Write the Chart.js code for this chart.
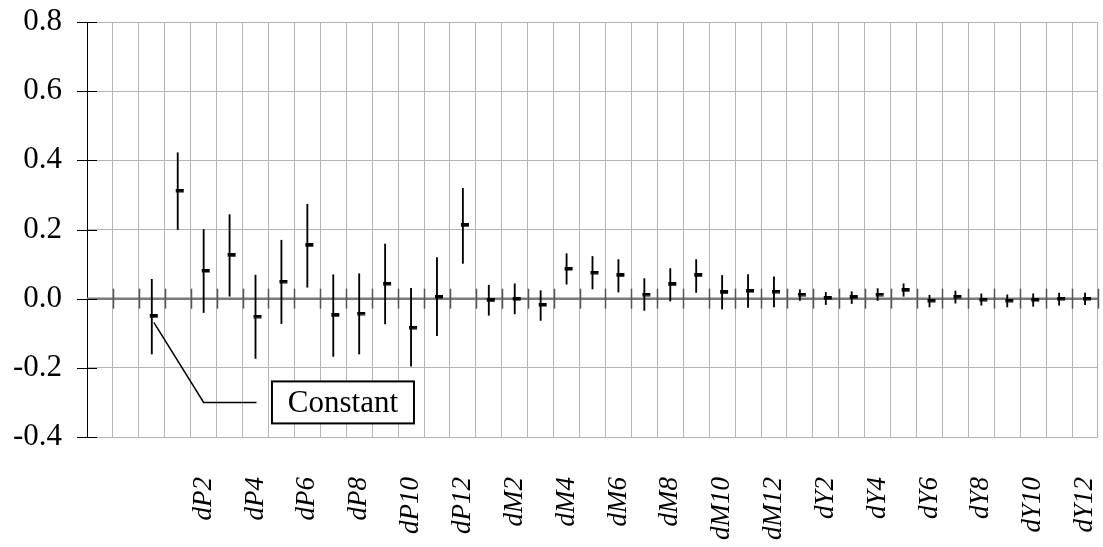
<!DOCTYPE html>
<html lang="en">
<head>
<meta charset="UTF-8">
<title>Coefficients</title>
<script src="https://cdn.jsdelivr.net/npm/chart.js"></script>
<style>
  html, body { margin: 0; padding: 0; background: #fff; }
  #wrap { width: 1103px; height: 547px; }
</style>
</head>
<body>
<div id="wrap"><canvas id="myChart"></canvas></div>
<script>
const categories = ['', '', 'Constant',
  'dP1', 'dP2', 'dP3', 'dP4', 'dP5', 'dP6', 'dP7', 'dP8', 'dP9', 'dP10', 'dP11', 'dP12',
  'dM1', 'dM2', 'dM3', 'dM4', 'dM5', 'dM6', 'dM7', 'dM8', 'dM9', 'dM10', 'dM11', 'dM12',
  'dY1', 'dY2', 'dY3', 'dY4', 'dY5', 'dY6', 'dY7', 'dY8', 'dY9', 'dY10', 'dY11', 'dY12'];

const estimates = [null, null, -0.051,
  0.312, 0.080, 0.125, -0.052, 0.049, 0.154, -0.048, -0.043, 0.043, -0.084, 0.005, 0.212,
  -0.005, -0.001, -0.018, 0.086, 0.075, 0.067, 0.012, 0.041, 0.067, 0.018, 0.022, 0.020,
  0.012, 0.002, 0.004, 0.012, 0.024, -0.006, 0.006, -0.003, -0.006, -0.004, 0.000, 0.000];

const lower = [null, null, -0.160,
  0.200, -0.040, 0.007, -0.173, -0.072, 0.033, -0.167, -0.160, -0.073, -0.195, -0.107, 0.102,
  -0.048, -0.044, -0.063, 0.042, 0.028, 0.019, -0.034, -0.007, 0.018, -0.030, -0.025, -0.024,
  -0.005, -0.017, -0.014, -0.005, 0.007, -0.024, -0.013, -0.019, -0.024, -0.022, -0.019, -0.017];

const upper = [null, null, 0.056,
  0.422, 0.200, 0.243, 0.068, 0.169, 0.273, 0.069, 0.072, 0.158, 0.030, 0.119, 0.319,
  0.039, 0.043, 0.023, 0.130, 0.122, 0.113, 0.058, 0.087, 0.113, 0.067, 0.070, 0.063,
  0.026, 0.018, 0.020, 0.029, 0.043, 0.010, 0.022, 0.014, 0.011, 0.014, 0.016, 0.016];

const yTicks = [-0.4, -0.2, 0.0, 0.2, 0.4, 0.6, 0.8];

// little dash marker, sits a bit to the right of the bar
const dash = document.createElement('canvas');
dash.width = 14; dash.height = 4;
const dctx = dash.getContext('2d');
dctx.fillStyle = '#000';
dctx.fillRect(5, 0, 8, 3.5);

const axisDeco = {
  id: 'axisDeco',
  beforeDatasetsDraw(chart) {
    const {ctx, chartArea, scales} = chart;
    const y0 = scales.y.getPixelForValue(0);
    const step = (chartArea.right - chartArea.left) / categories.length;
    ctx.save();
    ctx.strokeStyle = '#7a7a7a';
    ctx.lineWidth = 2.5;
    ctx.beginPath();
    ctx.moveTo(chartArea.left, y0);
    ctx.lineTo(chartArea.right, y0);
    ctx.stroke();
    ctx.strokeStyle = '#555';
    ctx.lineWidth = 1.5;
    for (let i = 1; i <= categories.length; i++) {
      const x = Math.round(chartArea.left + i * step) + 0.5;
      ctx.beginPath();
      ctx.moveTo(x, y0 - 10);
      ctx.lineTo(x, y0 + 10);
      ctx.stroke();
    }
    ctx.restore();
  },
  afterDraw(chart) {
    const {ctx, chartArea, scales} = chart;
    ctx.save();
    ctx.strokeStyle = '#000';
    ctx.lineWidth = 1;
    yTicks.forEach(v => {
      const y = Math.round(scales.y.getPixelForValue(v)) + 0.5;
      ctx.beginPath();
      ctx.moveTo(chartArea.left - 10, y);
      ctx.lineTo(chartArea.left + 10, y);
      ctx.stroke();
    });

    // callout for the constant
    const xs = scales.x, ys = scales.y;
    const px = xs.getPixelForValue(2) + 2;
    const py = ys.getPixelForValue(estimates[2]) + 6;
    const ey = ys.getPixelForValue(-0.3);
    const ex = xs.getPixelForValue(4);
    const hx = xs.getPixelForValue(6) + 1;
    ctx.lineWidth = 1.5;
    ctx.beginPath();
    ctx.moveTo(px, py);
    ctx.lineTo(ex, ey);
    ctx.lineTo(hx, ey);
    ctx.stroke();

    const bx = (xs.getPixelForValue(6) + xs.getPixelForValue(7)) / 2 + 3.5;
    const bw = 142, bh = 42;
    ctx.fillStyle = '#fff';
    ctx.fillRect(bx, ey - bh / 2, bw, bh);
    ctx.lineWidth = 2;
    ctx.strokeRect(bx, ey - bh / 2, bw, bh);
    ctx.fillStyle = '#000';
    ctx.font = '31px "Liberation Serif"';
    ctx.textAlign = 'center';
    ctx.textBaseline = 'middle';
    ctx.fillText('Constant', bx + bw / 2, ey + 1);
    ctx.restore();
  }
};

new Chart(document.getElementById('myChart'), {
  type: 'bar',
  data: {
    labels: categories,
    datasets: [
      {
        type: 'line',
        label: 'Estimate',
        data: estimates,
        showLine: false,
        pointStyle: dash,
        order: 0
      },
      {
        label: 'Range',
        data: categories.map((c, i) => lower[i] == null ? null : [lower[i], upper[i]]),
        backgroundColor: '#000',
        borderWidth: 0,
        barThickness: 1.2,
        order: 1
      }
    ]
  },
  options: {
    responsive: true,
    maintainAspectRatio: false,
    animation: false,
    layout: { padding: { top: 22, right: 4, left: 0, bottom: 0 } },
    plugins: {
      legend: { display: false },
      tooltip: { enabled: false }
    },
    scales: {
      x: {
        offset: true,
        grid: { color: '#b4b4b4', offset: true, drawTicks: false },
        border: { display: false },
        ticks: {
          autoSkip: false,
          minRotation: 90,
          maxRotation: 90,
          padding: 40,
          color: '#000',
          font: { family: 'Liberation Serif', style: 'italic', size: 27 },
          callback: (v, i) => /\d*[02468]$/.test(categories[i]) ? categories[i] : ''
        },
        afterFit: s => {
          s.height = 110;
          s.paddingLeft = 0; s.paddingRight = 0;
        }
      },
      y: {
        min: -0.4,
        max: 0.8,
        afterBuildTicks: s => { s.ticks = yTicks.map(v => ({ value: v })); },
        ticks: {
          padding: 25,
          color: '#000',
          font: { family: 'Liberation Serif', size: 31 },
          callback: v => v.toFixed(1)
        },
        grid: { color: '#b4b4b4', drawTicks: false },
        border: { color: '#000', width: 1 },
        afterFit: s => {
          s.width = 87;
          s.paddingTop = 0; s.paddingBottom = 0;
        }
      }
    }
  },
  plugins: [axisDeco]
});
</script>
</body>
</html>
